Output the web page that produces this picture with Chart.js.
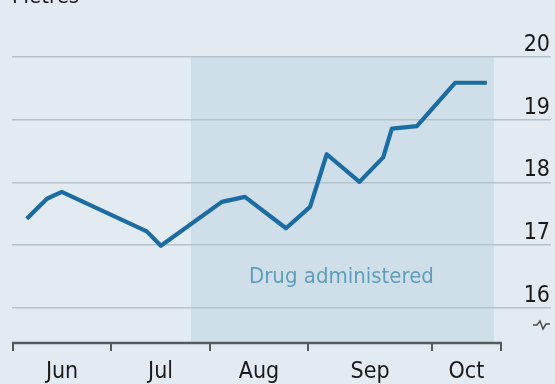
<!DOCTYPE html>
<html>
<head>
<meta charset="utf-8">
<script src="https://cdn.jsdelivr.net/npm/chart.js@4"></script>
<style>
  html, body { margin: 0; padding: 0; background: #e2ebf1; }
  #wrap { width: 555px; height: 384px; position: relative; }
</style>
</head>
<body>
<div id="wrap"><canvas id="chart_height"></canvas></div>
<script>
// x values are days counted from the left edge of the plot
var dayValues = [4.6, 10.9, 15.5, 42.0, 46.4, 65.4, 72.6, 85.4, 92.9, 98.1, 108.3, 115.7, 118.4, 126.2, 138.1, 148.0];
var metres    = [17.42, 17.74, 17.85, 17.22, 16.99, 17.69, 17.77, 17.27, 17.61, 18.45, 18.01, 18.40, 18.86, 18.90, 19.59, 19.59];
var monthBounds = [0.3, 30.9, 61.7, 92.3, 130.9, 152.4];
var monthLabels = ['Jun', 'Jul', 'Aug', 'Sep', 'Oct'];
var yTicks = [16, 17, 18, 19, 20];
var drugStart = 55.8, drugEnd = 150.2;

var FONT = '"Liberation Sans Narrow", "DejaVu Sans Condensed", "Roboto", sans-serif';

var monthMids = [];
for (var i = 0; i < monthLabels.length; i++) {
    monthMids.push((monthBounds[i] + monthBounds[i + 1]) / 2);
}

var chart_height = new Chart(document.getElementById('chart_height'), {
    type: 'line',
    data: {
        datasets: [
            {
                label: 'Height',
                data: dayValues.map(function(d, i) { return {x: d, y: metres[i]}; }),
                borderColor: '#1b6ca3',
                borderWidth: 4.2,
                pointRadius: 0,
                tension: 0,
                borderJoinStyle: 'round',
                borderCapStyle: 'butt'
            }
        ]
    },
    options: {
        animation: false,
        responsive: true,
        maintainAspectRatio: false,
        layout: {
            padding: {left: 12, right: 4, top: 0, bottom: 1}
        },
        plugins: {
            legend: {display: false},
            tooltip: {enabled: false}
        },
        scales: {
            x: {
                type: 'linear',
                min: 0,
                max: 168,
                afterBuildTicks: function(scale) {
                    scale.ticks = monthBounds.concat(monthMids)
                        .sort(function(a, b) { return a - b; })
                        .map(function(v) { return {value: v}; });
                },
                afterFit: function(scale) {
                    scale.height = 40;
                    scale.paddingLeft = 0;
                    scale.paddingRight = 0;
                },
                ticks: {
                    autoSkip: false,
                    maxRotation: 0,
                    padding: 10,
                    color: '#1a1a1a',
                    font: {family: FONT, size: 23, lineHeight: 1},
                    callback: function(value) {
                        var k = monthMids.indexOf(value);
                        return k >= 0 ? monthLabels[k] : '';
                    }
                },
                grid: {
                    drawOnChartArea: false,
                    drawTicks: true,
                    tickLength: 8,
                    lineWidth: 2,
                    color: function(ctx) {
                        return ctx.tick && monthBounds.indexOf(ctx.tick.value) >= 0 ? '#555a5e' : 'rgba(0,0,0,0)';
                    }
                },
                border: {display: false}
            },
            y: {
                type: 'linear',
                position: 'right',
                min: 15.44,
                max: 20.91,
                afterBuildTicks: function(scale) {
                    scale.ticks = yTicks.map(function(v) { return {value: v}; });
                },
                afterFit: function(scale) {
                    scale.paddingTop = 0;
                    scale.paddingBottom = 0;
                },
                ticks: {
                    mirror: true,
                    padding: -1,
                    labelOffset: -12,
                    color: '#1a1a1a',
                    font: {family: FONT, size: 23}
                },
                grid: {
                    drawTicks: false,
                    color: '#b6c2c9',
                    lineWidth: 1.5
                },
                border: {display: false}
            }
        }
    },
    plugins: [{
        id: 'backdrop',
        beforeDraw: function(chart) {
            var ctx = chart.ctx, a = chart.chartArea;
            var xs = chart.scales.x, ys = chart.scales.y;
            ctx.save();
            ctx.fillStyle = '#e2ebf1';
            ctx.fillRect(0, 0, chart.width, chart.height);
            var x0 = xs.getPixelForValue(drugStart), x1 = xs.getPixelForValue(drugEnd);
            var yTop = ys.getPixelForValue(20);
            ctx.fillStyle = '#cfdfe9';
            ctx.fillRect(x0, yTop, x1 - x0, a.bottom - yTop);
            ctx.fillStyle = '#5f9dbb';
            ctx.font = '22px ' + FONT;
            ctx.textAlign = 'center';
            ctx.textBaseline = 'middle';
            ctx.fillText('Drug administered', (x0 + x1) / 2 - 1, ys.getPixelForValue(16.49));
            ctx.fillStyle = '#1a1a1a';
            ctx.textAlign = 'left';
            ctx.textBaseline = 'alphabetic';
            ctx.fillText('Metres', 12, 3);
            ctx.restore();
        },
        afterDraw: function(chart) {
            var ctx = chart.ctx, a = chart.chartArea;
            var xs = chart.scales.x;
            ctx.save();
            ctx.strokeStyle = '#555a5e';
            ctx.lineWidth = 2.5;
            ctx.beginPath();
            ctx.moveTo(xs.getPixelForValue(monthBounds[0]) - 1, a.bottom);
            ctx.lineTo(xs.getPixelForValue(monthBounds[monthBounds.length - 1]) + 1, a.bottom);
            ctx.stroke();
            // axis break mark
            var bx = a.right - 18, by = a.bottom - 18;
            ctx.strokeStyle = '#4a4a4a';
            ctx.lineWidth = 1.5;
            ctx.beginPath();
            ctx.moveTo(bx, by);
            ctx.lineTo(bx + 4, by);
            ctx.lineTo(bx + 7, by - 4);
            ctx.lineTo(bx + 10, by + 4);
            ctx.lineTo(bx + 13, by - 1);
            ctx.lineTo(bx + 17, by - 1);
            ctx.stroke();
            ctx.restore();
        }
    }]
});
</script>
</body>
</html>
